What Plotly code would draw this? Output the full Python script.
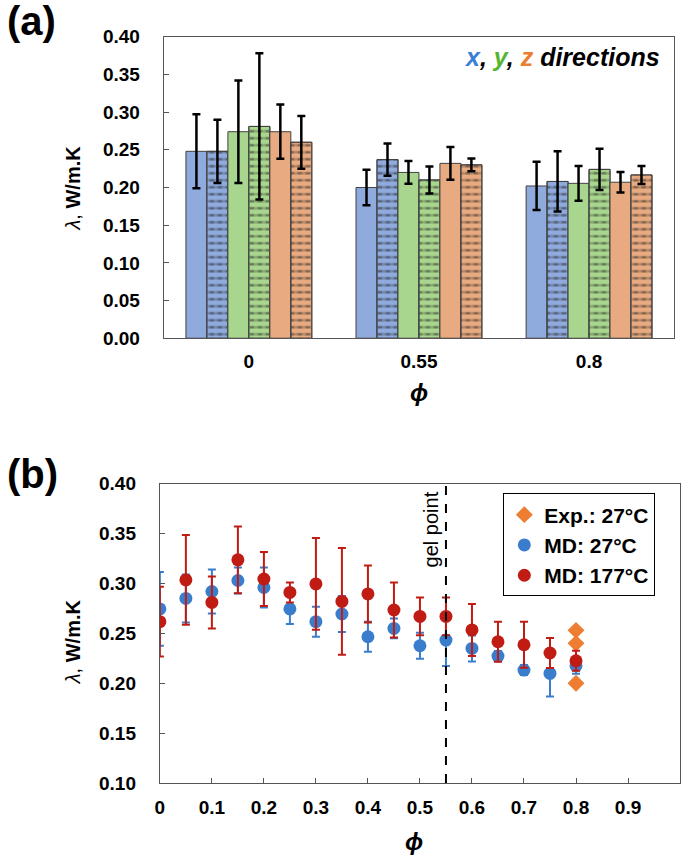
import plotly.graph_objects as go

# ---------------- Panel (a) data ----------------
PHI_CATEGORIES = ["0", "0.55", "0.8"]

X_SOLID = [0.248, 0.200, 0.202]
X_SOLID_ERR = [0.049, 0.0235, 0.032]
X_DASH = [0.248, 0.237, 0.208]
X_DASH_ERR = [0.042, 0.0215, 0.040]
Y_SOLID = [0.274, 0.220, 0.2055]
Y_SOLID_ERR = [0.068, 0.015, 0.023]
Y_DASH = [0.281, 0.210, 0.224]
Y_DASH_ERR = [0.097, 0.018, 0.0275]
Z_SOLID = [0.274, 0.232, 0.207]
Z_SOLID_ERR = [0.036, 0.0217, 0.0137]
Z_DASH = [0.260, 0.230, 0.2166]
Z_DASH_ERR = [0.035, 0.0085, 0.012]

# ---------------- Panel (b) data ----------------
PHI_MD = [0, 0.05, 0.1, 0.15, 0.2, 0.25, 0.3, 0.35, 0.4, 0.45, 0.5,
          0.55, 0.6, 0.65, 0.7, 0.75, 0.8]
LAMBDA_MD27 = [0.2745, 0.285, 0.292, 0.303, 0.296, 0.2745, 0.2617, 0.2694,
               0.2466, 0.255, 0.2376, 0.2433, 0.2349, 0.2272, 0.2132, 0.2098, 0.2175]
ERR_MD27 = [0.037, 0.024, 0.022, 0.013, 0.020, 0.015, 0.015, 0.018,
            0.015, 0.010, 0.013, 0.026, 0.013, 0.005, 0.005, 0.023, 0.008]
LAMBDA_MD177 = [0.2617, 0.3036, 0.281, 0.3237, 0.3045, 0.291, 0.2996, 0.282,
                0.2895, 0.2734, 0.267, 0.267, 0.2534, 0.2416, 0.2386, 0.2303, 0.2225]
ERR_MD177 = [0.035, 0.045, 0.026, 0.0335, 0.027, 0.010, 0.046, 0.0535,
             0.0285, 0.0275, 0.019, 0.019, 0.026, 0.020, 0.023, 0.015, 0.010]
PHI_EXP = [0.8, 0.8, 0.8]
LAMBDA_EXP = [0.253, 0.240, 0.200]
GEL_POINT = 0.55

# ---------------- styles ----------------
FONT = "Liberation Sans, Arial, sans-serif"
AXIS_COLOR = "#555555"
BAR_BLUE = "#8FAADC"
BAR_GREEN = "#A9D68E"
BAR_ORANGE = "#E8AA80"
BAR_EDGE = "#404040"
MD27_COLOR = "#3B7DCD"
MD177_COLOR = "#C01C14"
EXP_COLOR = "#ED7D31"

W, H = 685, 860
# observed mapping of the photographed page: screen_y = SY*fig_y + OY
SY, OY, OX = 0.974, 10.3, 0.0


def px_x(p):
    return (p - OX) / W


def px_y(p):
    return 1 - ((p - OY) / SY) / H


fig = go.Figure()

bar_series = [
    ("x 1", X_SOLID, X_SOLID_ERR, BAR_BLUE, False),
    ("x 2", X_DASH, X_DASH_ERR, BAR_BLUE, True),
    ("y 1", Y_SOLID, Y_SOLID_ERR, BAR_GREEN, False),
    ("y 2", Y_DASH, Y_DASH_ERR, BAR_GREEN, True),
    ("z 1", Z_SOLID, Z_SOLID_ERR, BAR_ORANGE, False),
    ("z 2", Z_DASH, Z_DASH_ERR, BAR_ORANGE, True),
]

err_a = lambda arr: dict(type="data", array=arr, visible=True, color="black",
                         thickness=2.5, width=4)

for name, vals, errs, col, dashed in bar_series:
    if not dashed:
        fig.add_trace(go.Bar(
            x=PHI_CATEGORIES, y=vals, name=name, offsetgroup=name,
            marker=dict(color=col, line=dict(color=BAR_EDGE, width=1)),
            error_y=err_a(errs), showlegend=False,
            xaxis="x", yaxis="y"))
    else:
        fig.add_trace(go.Bar(
            x=PHI_CATEGORIES, y=vals, name=name, offsetgroup=name,
            marker=dict(color=col, line=dict(color=BAR_EDGE, width=1),
                        pattern=dict(shape="-", fgcolor="#111111", bgcolor=col,
                                     size=7, solidity=0.33)),
            showlegend=False, xaxis="x", yaxis="y"))
        fig.add_trace(go.Bar(
            x=PHI_CATEGORIES, y=vals, name=name, offsetgroup=name,
            marker=dict(color="rgba(0,0,0,0)", line=dict(color=BAR_EDGE, width=1),
                        pattern=dict(shape="|", fgcolor=col, bgcolor="rgba(0,0,0,0)",
                                     size=8, solidity=0.45)),
            error_y=err_a(errs), showlegend=False, xaxis="x", yaxis="y"))

# ---------------- Panel (b) traces ----------------
fig.add_trace(go.Scatter(
    x=PHI_EXP, y=LAMBDA_EXP, mode="markers", name="Exp.: 27°C",
    marker=dict(symbol="diamond", size=13, color=EXP_COLOR),
    xaxis="x2", yaxis="y2"))
fig.add_trace(go.Scatter(
    x=PHI_MD, y=LAMBDA_MD27, mode="markers", name="MD: 27°C",
    marker=dict(symbol="circle", size=13, color=MD27_COLOR),
    error_y=dict(type="data", array=ERR_MD27, color=MD27_COLOR, thickness=2, width=4),
    xaxis="x2", yaxis="y2"))
fig.add_trace(go.Scatter(
    x=PHI_MD, y=LAMBDA_MD177, mode="markers", name="MD: 177°C",
    marker=dict(symbol="circle", size=13, color=MD177_COLOR),
    error_y=dict(type="data", array=ERR_MD177, color=MD177_COLOR, thickness=2, width=4),
    xaxis="x2", yaxis="y2"))

tickfont = dict(family=FONT, size=19, color="black", weight="bold")
common_axis = dict(showline=True, linecolor=AXIS_COLOR, linewidth=1.2, mirror=True,
                   showgrid=False, zeroline=False, ticks="inside", ticklen=5,
                   tickcolor=AXIS_COLOR, tickwidth=1, tickfont=tickfont)

fig.update_layout(
    width=W, height=H, margin=dict(l=0, r=0, t=0, b=0),
    paper_bgcolor="white", plot_bgcolor="white",
    barmode="group", bargap=0.26, bargroupgap=0,
    xaxis=dict(domain=[px_x(160), px_x(674)], anchor="y", type="category",
               **{**common_axis, "ticks": ""}, ticklabelstandoff=6),
    yaxis=dict(domain=[px_y(338), px_y(37)], anchor="x", range=[0, 0.40],
               dtick=0.05, tickformat=".2f", ticklabelstandoff=19, **common_axis),
    xaxis2=dict(domain=[px_x(156), px_x(680)], anchor="y2", range=[0, 1],
                dtick=0.1, ticklabelstandoff=7, **common_axis),
    yaxis2=dict(domain=[px_y(782), px_y(483.3)], anchor="x2", range=[0.10, 0.40],
                dtick=0.05, tickformat=".2f", ticklabelstandoff=19, **common_axis),
    showlegend=True,
    legend=dict(x=px_x(502), y=px_y(493), xanchor="left", yanchor="top",
                bgcolor="white", bordercolor="black", borderwidth=1,
                font=dict(family=FONT, size=21, color="black", weight="bold"),
                itemsizing="trace", tracegroupgap=0,
                entrywidth=150, entrywidthmode="pixels"),
    font=dict(family=FONT),
)

fig.add_shape(type="line", xref="x2", yref="y2 domain", x0=GEL_POINT, x1=GEL_POINT,
              y0=0, y1=1, line=dict(color="black", width=2, dash="dash"))

annotations = [
    dict(text="<b>(a)</b>", x=px_x(0), y=px_y(21), xanchor="left", yanchor="middle",
         font=dict(size=40)),
    dict(text="<b>(b)</b>", x=px_x(0), y=px_y(474), xanchor="left", yanchor="middle",
         font=dict(size=40)),
    dict(text="<i>λ</i>, <b>W/m.K</b>", x=px_x(68), y=px_y(188), textangle=-90,
         xanchor="center", yanchor="middle", font=dict(size=20)),
    dict(text="<i>λ</i>, <b>W/m.K</b>", x=px_x(68), y=px_y(641), textangle=-90,
         xanchor="center", yanchor="middle", font=dict(size=20)),
    dict(text="<b><i>ϕ</i></b>", x=px_x(417), y=px_y(392), xanchor="center",
         yanchor="middle", font=dict(size=24)),
    dict(text="<b><i>ϕ</i></b>", x=px_x(412), y=px_y(840), xanchor="center",
         yanchor="middle", font=dict(size=24)),
    dict(text=("<b><i><span style='color:#3A7FD5'>x</span>, "
               "<span style='color:#55B530'>y</span>, "
               "<span style='color:#ED7D31'>z</span> directions</i></b>"),
         x=px_x(662), y=px_y(57), xanchor="right", yanchor="middle",
         font=dict(size=25)),
    dict(text="gel point", x=px_x(429), y=px_y(529), textangle=-90,
         xanchor="center", yanchor="middle", font=dict(size=20)),
]
for a in annotations:
    a.setdefault("xref", "paper")
    a.setdefault("yref", "paper")
    a["showarrow"] = False
    a["font"] = {"family": FONT, "color": "black", **a["font"]}
    fig.add_annotation(**a)

fig.write_html("out.html", config={"displayModeBar": False},
               post_script="document.body.style.margin='0';document.body.style.overflow='hidden';")
